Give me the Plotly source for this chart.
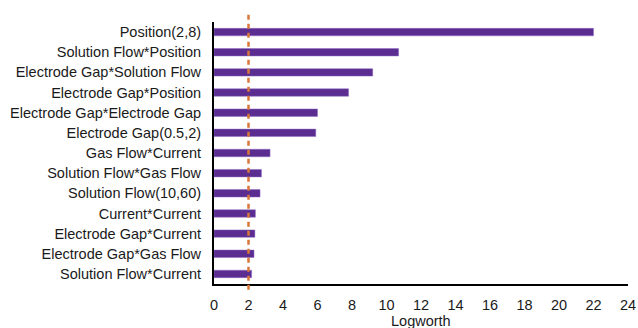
import plotly.graph_objects as go

# Effect terms, ordered from largest to smallest logworth
terms = [
    "Position(2,8)",
    "Solution Flow*Position",
    "Electrode Gap*Solution Flow",
    "Electrode Gap*Position",
    "Electrode Gap*Electrode Gap",
    "Electrode Gap(0.5,2)",
    "Gas Flow*Current",
    "Solution Flow*Gas Flow",
    "Solution Flow(10,60)",
    "Current*Current",
    "Electrode Gap*Current",
    "Electrode Gap*Gas Flow",
    "Solution Flow*Current",
]
logworth = [22.0, 10.7, 9.2, 7.8, 6.0, 5.9, 3.25, 2.75, 2.67, 2.4, 2.37, 2.32, 2.18]
threshold = 2.0
x_ticks = list(range(0, 26, 2))

FONT = "Liberation Sans, Arial, Helvetica, sans-serif"
BAR = "#5B2D91"
REF = "#D9773A"

fig = go.Figure()
fig.add_trace(go.Bar(
    x=logworth,
    y=terms,
    orientation="h",
    width=0.37,
    marker=dict(color=BAR, line=dict(color="#8E6CC4", width=0.5)),
    showlegend=False,
))

# significance threshold line
fig.add_shape(
    type="line", xref="x", yref="paper",
    x0=threshold, x1=threshold, y0=-0.022, y1=1.036,
    line=dict(color=REF, width=2.5, dash="5px,4px"),
    layer="above",
)

fig.add_annotation(
    text="Logworth", xref="paper", yref="paper",
    x=0.5, y=-0.14, xanchor="center", yanchor="middle",
    showarrow=False, font=dict(family=FONT, size=14.5, color="#1a1a1a"),
)

fig.update_layout(
    width=638, height=328,
    margin=dict(l=214, r=10, t=22, b=44),
    paper_bgcolor="white", plot_bgcolor="white",
    font=dict(family=FONT, size=14, color="#1a1a1a"),
)
fig.update_xaxes(
    range=[0, 24], tickvals=x_ticks, ticktext=[str(v) for v in x_ticks],
    showgrid=False, zeroline=False, automargin=False,
    showline=True, linecolor="black", linewidth=2,
    ticks="", ticklabelstandoff=7,
    tickfont=dict(family=FONT, size=14.5, color="#1a1a1a"),
)
fig.update_yaxes(
    categoryorder="array", categoryarray=terms[::-1],
    range=[-0.5, len(terms) - 0.5],
    showgrid=False, zeroline=False, automargin=False,
    showline=True, linecolor="black", linewidth=2,
    ticks="", ticklabelstandoff=8,
    tickfont=dict(family=FONT, size=14.5, color="#1a1a1a"),
)

fig.write_html("out.html")
